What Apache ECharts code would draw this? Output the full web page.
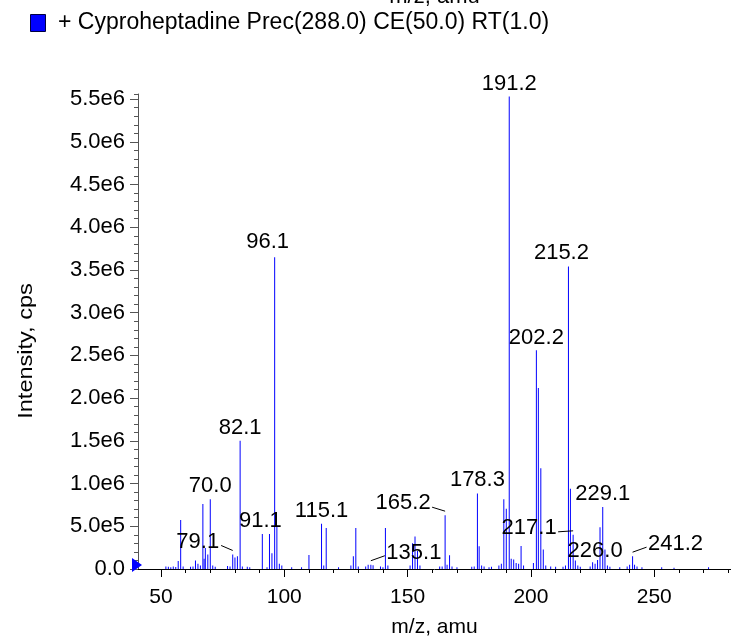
<!DOCTYPE html>
<html>
<head>
<meta charset="utf-8">
<script src="https://cdn.jsdelivr.net/npm/echarts@6/dist/echarts.min.js"></script>
<style>
html,body{margin:0;padding:0;background:#fff;}
#chart{width:731px;height:643px;}
</style>
</head>
<body>
<div id="chart"></div>
<script>
// ---- data ----
var seriesName = '+ Cyproheptadine Prec(288.0) CE(50.0) RT(1.0)';
var mzValues = [
  52, 53, 54, 55, 56, 57, 58, 59, 62, 63, 64, 65, 66, 67, 67.5, 68, 69, 70, 71, 72,
  77, 78, 79.1, 80, 81, 82.1, 83, 85, 86, 91.1, 93, 94, 95, 96.1, 97, 98, 99, 103, 107,
  110, 115.1, 116, 117, 122, 127, 128, 129, 130, 133, 134, 135.1, 136, 139, 140, 141, 142,
  151, 152, 153, 154, 155, 163, 164, 165.2, 166, 167, 168, 170, 176, 177, 178.3, 179, 180, 181,
  183, 184, 187, 188, 189, 190, 191.2, 192, 193, 194, 195, 196, 197, 201, 202.2, 203, 204, 205, 206,
  208, 210, 213, 214, 215.2, 216, 217.1, 218, 219, 220, 224, 225, 226, 227, 228, 229.1, 230, 231, 232,
  236, 239, 240, 241.2, 242, 243, 245, 253, 258, 272
];
var intensities = [
  30000, 25000, 20000, 28000, 22000, 95000, 575000, 30000, 25000, 30000, 100000, 60000, 40000, 760000, 120000, 245000, 170000, 815000, 40000, 25000,
  35000, 30000, 170000, 135000, 150000, 1500000, 30000, 25000, 20000, 410000, 20000, 410000, 185000, 3650000, 510000, 60000, 40000, 20000, 20000,
  165000, 530000, 40000, 480000, 20000, 40000, 150000, 480000, 30000, 30000, 50000, 50000, 45000, 30000, 20000, 480000, 40000,
  40000, 300000, 380000, 210000, 40000, 30000, 30000, 630000, 50000, 160000, 30000, 20000, 25000, 30000, 885000, 265000, 40000, 30000,
  20000, 25000, 40000, 60000, 815000, 705000, 5530000, 120000, 110000, 70000, 60000, 270000, 40000, 70000, 2560000, 2120000, 1180000, 227000, 40000,
  30000, 25000, 25000, 40000, 3540000, 940000, 400000, 100000, 40000, 25000, 30000, 80000, 60000, 105000, 490000, 725000, 227000, 40000, 25000,
  20000, 30000, 50000, 150000, 50000, 30000, 20000, 20000, 15000, 20000
];
var peakLabels = ['70.0', '79.1', '82.1', '91.1', '96.1', '115.1', '135.1', '165.2', '178.3', '191.2', '202.2', '215.2', '217.1', '226.0', '229.1', '241.2'];
var peakMz =     [70, 79.1, 82.1, 91.1, 96.1, 115.1, 135.1, 165.2, 178.3, 191.2, 202.2, 215.2, 217.1, 226, 229.1, 241.2];
var xMajorTicks = [50, 100, 150, 200, 250];
var xMinorTicks = [50, 60, 70, 80, 90, 100, 110, 120, 130, 140, 150, 160, 170, 180, 190, 200, 210, 220, 230, 240, 250, 260, 270, 280];
var yMajorTicks = [0, 500000, 1000000, 1500000, 2000000, 2500000, 3000000, 3500000, 4000000, 4500000, 5000000, 5500000];

// ---- label layout (pixel offsets of text centre from bar top; leader flag) ----
var labelLayout = {
  '70.0':  {dx: 0,   dy: -13, leader: false},
  '79.1':  {dx: -35, dy: -13, leader: true},
  '82.1':  {dx: 0,   dy: -13, leader: false},
  '91.1':  {dx: -2,  dy: -13, leader: false},
  '96.1':  {dx: -7,  dy: -15, leader: false},
  '115.1': {dx: 0,   dy: -13, leader: false},
  '135.1': {dx: 43,  dy: -12, leader: true},
  '165.2': {dx: -42, dy: -12, leader: true},
  '178.3': {dx: 0,   dy: -13, leader: false},
  '191.2': {dx: 0,   dy: -13, leader: false},
  '202.2': {dx: 0,   dy: -12, leader: false},
  '215.2': {dx: -7,  dy: -14, leader: false},
  '217.1': {dx: -44, dy: -7,  leader: true},
  '226.0': {dx: 0,   dy: -13, leader: false},
  '229.1': {dx: 0,   dy: -13, leader: false},
  '241.2': {dx: 43,  dy: -12, leader: true}
};

function intensityAt(mz) {
  var best = 0, d = 1e9;
  for (var i = 0; i < mzValues.length; i++) {
    var dd = Math.abs(mzValues[i] - mz);
    if (dd < d) { d = dd; best = intensities[i]; }
  }
  return best;
}

var barData = mzValues.map(function (m, i) { return [m, intensities[i]]; });
var labelData = peakMz.map(function (m, i) { return [m, intensityAt(m), peakLabels[i]]; });

function fmtY(v) {
  if (v === 0) return '0.0';
  var e = Math.floor(Math.log10(v) + 1e-9);
  var m = v / Math.pow(10, e);
  return m.toFixed(1) + 'e' + e;
}

var FONT = 'Liberation Sans, Arial, Helvetica, sans-serif';
var XMIN = 40.7, XMAX = 281.1, YMAX = 5560000;

var chart = echarts.init(document.getElementById('chart'), null, {renderer: 'canvas'});
var option = {
  animation: false,
  backgroundColor: '#ffffff',
  textStyle: {fontFamily: FONT},
  legend: {
    data: [seriesName],
    left: 25, top: 9,
    icon: 'rect', itemWidth: 15, itemHeight: 17, itemGap: 0,
    formatter: function () { return ''; },
    textStyle: {fontSize: 1},
    itemStyle: {borderColor: '#000040', borderWidth: 1}
  },
  graphic: [{
    type: 'text', x: 434.5, y: -3,
    style: {text: 'm/z, amu', fontSize: 22, fontFamily: FONT, fill: '#000', align: 'center', verticalAlign: 'middle'}
  }, {
    type: 'text', x: 58, y: 23,
    style: {text: seriesName, fontSize: 23, fontFamily: FONT, fill: '#000', align: 'left', verticalAlign: 'middle'}
  }, {
    type: 'text', x: 26, y: 351, rotation: Math.PI / 2,
    scaleX: 1.12, scaleY: 1,
    style: {text: 'Intensity, cps', fontSize: 21, fontFamily: FONT, fill: '#000', align: 'center', verticalAlign: 'middle'}
  }],
  grid: {left: 138, right: 0, top: 94, bottom: 59, containLabel: false},
  xAxis: [{
    type: 'value', min: XMIN, max: XMAX, position: 'bottom',
    name: 'm/z, amu', nameLocation: 'middle', nameGap: 48,
    nameTextStyle: {fontSize: 21, color: '#000', fontFamily: FONT},
    axisLine: {show: true, lineStyle: {color: '#000', width: 1}},
    axisTick: {show: true, length: 8, inside: false, customValues: xMajorTicks, lineStyle: {color: '#000'}},
    axisLabel: {show: true, customValues: xMajorTicks, fontSize: 21, color: '#000', margin: 18, fontFamily: FONT},
    splitLine: {show: false}
  }, {
    type: 'value', min: XMIN, max: XMAX, position: 'bottom', offset: 0,
    axisLine: {show: false},
    axisTick: {show: true, length: 4, customValues: xMinorTicks, lineStyle: {color: '#000'}},
    axisLabel: {show: false},
    splitLine: {show: false}
  }],
  yAxis: [{
    type: 'value', min: 0, max: YMAX, position: 'left',
    axisLine: {show: true, lineStyle: {color: '#555', width: 1}},
    axisTick: {show: true, length: 8, customValues: yMajorTicks, lineStyle: {color: '#555'}},
    axisLabel: {show: true, customValues: yMajorTicks, formatter: fmtY, fontSize: 22, color: '#000', margin: 13, fontFamily: FONT},
    splitLine: {show: false}
  }, {
    type: 'value', min: 0, max: YMAX, position: 'left', offset: 0,
    axisLine: {show: false},
    axisTick: {show: true, length: 4, interval: 0, lineStyle: {color: '#555'}},
    interval: 100000,
    axisLabel: {show: false},
    splitLine: {show: false}
  }],
  series: [{
    name: seriesName,
    type: 'bar',
    xAxisIndex: 0, yAxisIndex: 0,
    data: barData,
    barWidth: 1,
    itemStyle: {color: '#0000ff'},
    large: false
  }, {
    name: 'labels',
    type: 'custom',
    xAxisIndex: 0, yAxisIndex: 0,
    data: labelData,
    silent: true,
    z: 5,
    renderItem: function (params, api) {
      var pt = api.coord([api.value(0), api.value(1)]);
      var text = peakLabels[params.dataIndex];
      var lay = labelLayout[text];
      var cx = pt[0] + lay.dx, cy = pt[1] + lay.dy;
      var children = [{
        type: 'text',
        style: {text: text, x: cx, y: cy, align: 'center', verticalAlign: 'middle',
                fontSize: 22, fontFamily: FONT, fill: '#000'}
      }];
      if (lay.leader) {
        var halfW = text.length * 5.6;
        var ex = lay.dx < 0 ? cx + halfW + 1 : cx - halfW - 1;
        var ey = cy + (lay.dx < 0 ? 4 : 3);
        children.push({
          type: 'line',
          shape: {x1: ex, y1: ey, x2: pt[0], y2: pt[1] - 4},
          style: {stroke: '#000', lineWidth: 1}
        });
      }
      return {type: 'group', children: children};
    }
  }, {
    name: 'zeroMarker',
    type: 'custom',
    xAxisIndex: 0, yAxisIndex: 0,
    data: [[XMIN, 0]],
    silent: true,
    renderItem: function (params, api) {
      var pt = api.coord([api.value(0), api.value(1)]);
      return {type: 'polygon', shape: {points: [[pt[0] - 6, pt[1] - 11], [pt[0] + 4, pt[1] - 4], [pt[0] - 6, pt[1] + 3]]},
              style: {fill: '#0000ff'}};
    }
  }]
};
chart.setOption(option);
</script>
</body>
</html>
